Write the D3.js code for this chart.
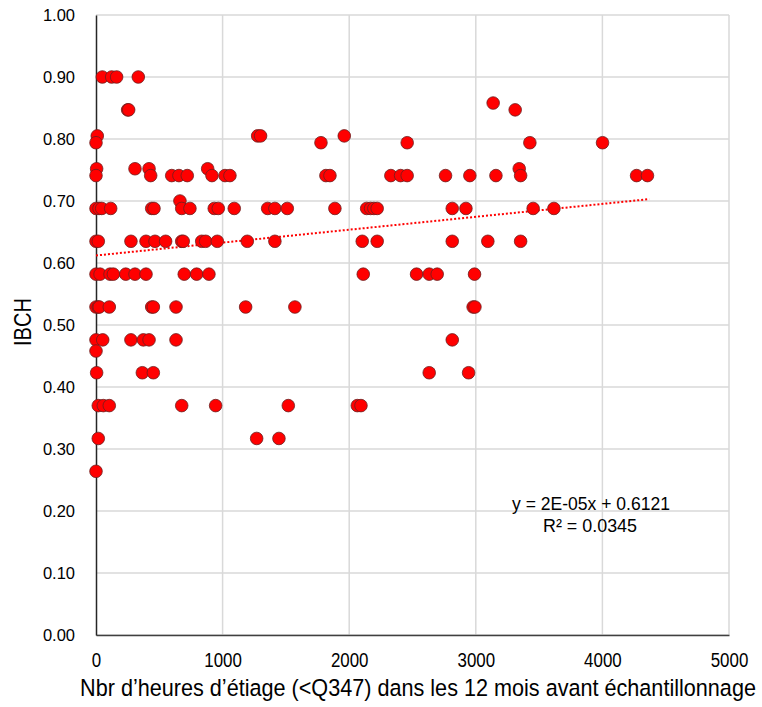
<!DOCTYPE html>
<html><head><meta charset="utf-8">
<script src="https://cdn.jsdelivr.net/npm/d3@7"></script>
<style>body{margin:0;background:#fff;} svg{display:block;font-family:"Liberation Sans",Arial,sans-serif;}</style>
</head><body>
<svg id="c" width="762" height="707"></svg>
<script>
// Data: hours of low flow (x) and IBCH (y)
const hours = [
  50,124,163,334,
  3137,
  250,258,3311,
  10,1277,1300,1961,
  0,1777,2458,3427,4001,
  5,308,419,882,3343,
  0,432,598,655,721,916,1019,1058,1816,1848,2329,2406,2458,2761,2953,3159,3354,4270,4356,
  663,
  0,24,45,116,440,458,677,742,934,966,1092,1356,1413,1511,1887,2138,2169,2195,2221,2814,2922,3453,3617,
  0,18,276,395,466,550,677,689,835,866,958,1195,1413,2103,2221,2814,3095,3354,
  0,32,111,137,235,308,395,697,795,892,2111,2532,2632,2695,2990,
  0,18,26,105,440,453,632,1182,1571,2979,2993,
  0,53,276,374,419,632,2814,
  0,
  5,366,453,2632,2943,
  18,58,105,677,945,1519,2064,2093,
  18,1269,1445,
  0
];
const ibch = [
  0.900,0.900,0.900,0.900,
  0.858,
  0.847,0.847,0.847,
  0.805,0.805,0.805,0.805,
  0.794,0.794,0.794,0.794,0.794,
  0.752,0.752,0.752,0.752,0.752,
  0.741,0.741,0.741,0.741,0.741,0.741,0.741,0.741,0.741,0.741,0.741,0.741,0.741,0.741,0.741,0.741,0.741,0.741,0.741,
  0.700,
  0.688,0.688,0.688,0.688,0.688,0.688,0.688,0.688,0.688,0.688,0.688,0.688,0.688,0.688,0.688,0.688,0.688,0.688,0.688,0.688,0.688,0.688,0.688,
  0.635,0.635,0.635,0.635,0.635,0.635,0.635,0.635,0.635,0.635,0.635,0.635,0.635,0.635,0.635,0.635,0.635,0.635,
  0.582,0.582,0.582,0.582,0.582,0.582,0.582,0.582,0.582,0.582,0.582,0.582,0.582,0.582,0.582,
  0.529,0.529,0.529,0.529,0.529,0.529,0.529,0.529,0.529,0.529,0.529,
  0.476,0.476,0.476,0.476,0.476,0.476,0.476,
  0.458,
  0.423,0.423,0.423,0.423,0.423,
  0.370,0.370,0.370,0.370,0.370,0.370,0.370,0.370,
  0.317,0.317,0.317,
  0.264
];
const xTicks = [0,1000,2000,3000,4000,5000];
const yTicks = [0,0.1,0.2,0.3,0.4,0.5,0.6,0.7,0.8,0.9,1.0];
const trendX = [0, 4370];
const trendY = [0.6121, 0.7030];
const equationLines = ["y = 2E-05x + 0.6121", "R\u00B2 = 0.0345"];
const xTitle = "Nbr d\u2019heures d\u2019\u00E9tiage (<Q347) dans les 12 mois avant \u00E9chantillonnage";
const yTitle = "IBCH";

const svg = d3.select("#c");
const L = 96, R = 729, T = 15, B = 635;
const x = d3.scaleLinear().domain([0,5000]).range([L,R]);
const y = d3.scaleLinear().domain([0,1]).range([B,T]);

// gridlines
const g = svg.append("g");
g.selectAll("line.h").data(yTicks).join("line")
  .attr("x1",L).attr("x2",R).attr("y1",d=>y(d)).attr("y2",d=>y(d))
  .attr("stroke","#d9d9d9").attr("stroke-width",1.5);
g.selectAll("line.v").data(xTicks.slice(1)).join("line")
  .attr("x1",d=>x(d)).attr("x2",d=>x(d)).attr("y1",T).attr("y2",B)
  .attr("stroke","#d9d9d9").attr("stroke-width",1.5);

// axes
const xa = svg.append("g").attr("transform",`translate(0,${B})`)
  .call(d3.axisBottom(x).tickValues(xTicks).tickFormat(d3.format("d")).tickSize(0).tickPadding(18));
xa.select(".domain").attr("stroke","#404040").attr("stroke-width",1.3);
xa.selectAll("text").attr("font-size",20).attr("fill","#000")
  .attr("font-family","'Liberation Sans',Arial,sans-serif")
  .each(function(d){ const s=String(d); d3.select(this).attr("textLength", s.length*9.4).attr("lengthAdjust","spacingAndGlyphs"); });

const ya = svg.append("g").attr("transform",`translate(${L},0)`)
  .call(d3.axisLeft(y).tickValues(yTicks).tickFormat(d3.format(".2f")).tickSize(0).tickPadding(21));
ya.select(".domain").attr("stroke","#262626").attr("stroke-width",1.5);
ya.selectAll("text").attr("font-size",16.5).attr("fill","#000")
  .attr("font-family","'Liberation Sans',Arial,sans-serif");

// trend line
svg.append("line")
  .attr("x1",x(trendX[0])).attr("y1",y(trendY[0]))
  .attr("x2",x(trendX[1])).attr("y2",y(trendY[1]))
  .attr("stroke","#ff0000").attr("stroke-width",2).attr("stroke-dasharray","2,2");

// points
const pts = hours.map((h,i)=>({h, v: ibch[i]}));
svg.append("g").selectAll("circle").data(pts).join("circle")
  .attr("cx",d=>x(d.h)).attr("cy",d=>y(d.v)).attr("r",6.3)
  .attr("fill","#ff0000").attr("stroke","#6b2020").attr("stroke-width",0.8);

// equation
svg.append("text").attr("x",591).attr("y",510).attr("text-anchor","middle")
  .attr("font-size",18.5).attr("textLength",158).attr("lengthAdjust","spacingAndGlyphs")
  .text(equationLines[0]);
svg.append("text").attr("x",590).attr("y",532).attr("text-anchor","middle")
  .attr("font-size",18.5).attr("textLength",94).attr("lengthAdjust","spacingAndGlyphs")
  .text(equationLines[1]);

// titles
svg.append("text").attr("transform","translate(418,696) scale(1.03,1.1)").attr("text-anchor","middle")
  .attr("font-size",21).text(xTitle);
svg.append("text").attr("transform","translate(31,322) rotate(-90)").attr("text-anchor","middle")
  .attr("font-size",24).attr("textLength",48).attr("lengthAdjust","spacingAndGlyphs")
  .text(yTitle);
</script>
</body></html>
